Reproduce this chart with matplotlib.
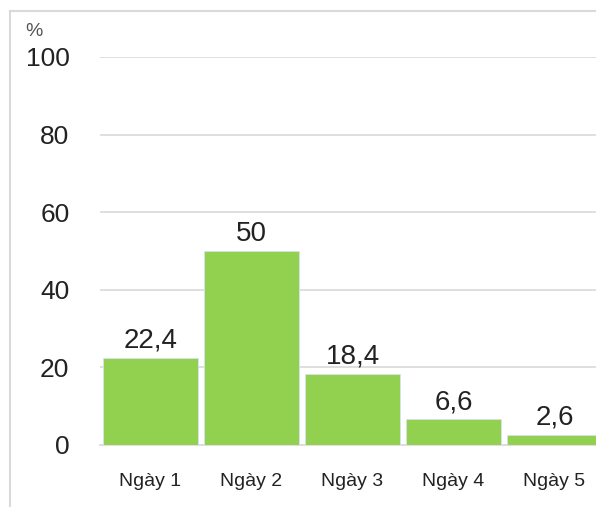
import matplotlib.pyplot as plt
from matplotlib.lines import Line2D

plt.rcParams['font.family'] = ['Liberation Sans', 'DejaVu Sans']

days = ["Ngày 1", "Ngày 2", "Ngày 3", "Ngày 4", "Ngày 5"]
percent = [22.4, 50, 18.4, 6.6, 2.6]
yticks = [0, 20, 40, 60, 80, 100]

W, H = 596, 507
fig = plt.figure(figsize=(W / 100, H / 100), dpi=100)
# plot area runs off the right edge, last bar is cut
ax = fig.add_axes([100 / W, (H - 445) / H, 505 / W, 388 / H])

x = list(range(len(days)))
bars = ax.bar(x, percent, width=0.94, color="#92d050",
              edgecolor="#d6e2f0", linewidth=0.6, zorder=3)

for b, v in zip(bars, percent):
    txt = f"{v:g}".replace(".", ",")
    ax.annotate(txt, (b.get_x() + b.get_width() / 2, v),
                xytext=(0, 3), textcoords="offset points",
                ha="center", va="bottom", fontsize=20, color="#222222")

ax.set_xlim(-0.5, len(days) - 0.5)
ax.set_ylim(0, 100)
ax.set_yticks(yticks)
ax.set_yticklabels([str(t) for t in yticks], fontsize=19, color="#222222")
ax.set_xticks(x)
ax.set_xticklabels(days, fontsize=14, color="#222222")
ax.tick_params(axis="y", length=0, pad=22)
ax.tick_params(axis="x", length=0, pad=20)

ax.grid(axis="y", color="#d9d9d9", linewidth=1.2, zorder=0)
for s in ["top", "right", "left"]:
    ax.spines[s].set_visible(False)
ax.spines["bottom"].set_color("#d9d9d9")
ax.spines["bottom"].set_linewidth(1.2)

fig.text(25 / W, 1 - 32 / H, "%", fontsize=14, color="#555555",
         ha="left", va="center")

# chart frame (left and top edges)
fig.add_artist(Line2D([10 / W, 10 / W], [0, 1 - 11 / H],
                      color="#d9d9d9", linewidth=1.5))
fig.add_artist(Line2D([10 / W, 1], [1 - 11 / H, 1 - 11 / H],
                      color="#d9d9d9", linewidth=1.5))

fig.savefig("out.png", dpi=100)
